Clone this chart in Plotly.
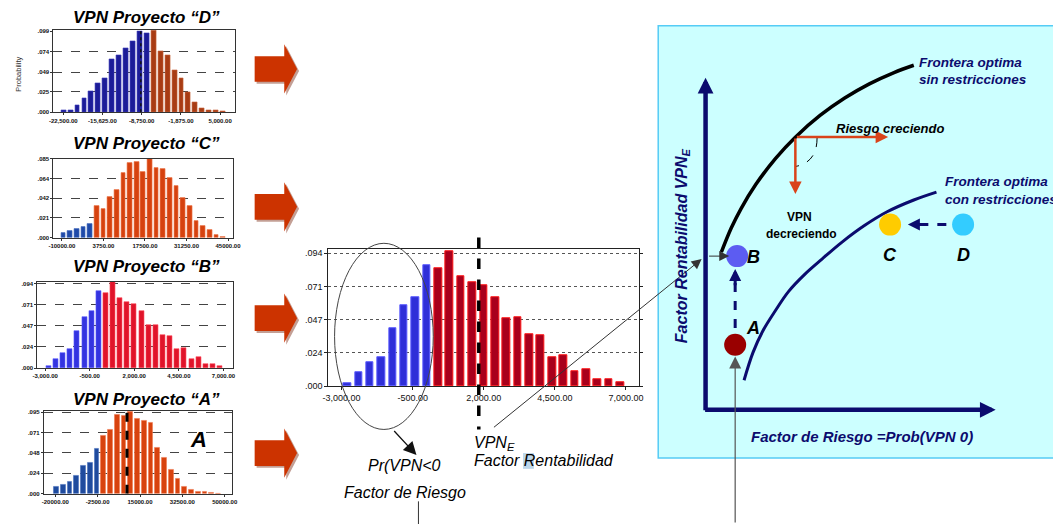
import plotly.graph_objects as go

W, H = 1053, 529
FONT = "Liberation Sans"

# ---------------- data: four small histograms ----------------
D_x_blue = [-22450, -21235, -20020, -18805, -17590, -16375, -15160, -13945, -12730, -11515, -10300, -9085, -7870]
D_y_blue = [0.002, 0.003, 0.008, 0.017, 0.026, 0.036, 0.042, 0.065, 0.070, 0.078, 0.086, 0.099, 0.096]
D_x_orange = [-6655, -5440, -4225, -3010, -1795, -580, 635, 1850, 3065, 4280, 5495]
D_y_orange = [0.0995, 0.074, 0.070, 0.051, 0.042, 0.025, 0.012, 0.005, 0.003, 0.003, 0.001]
D_xticks = [-22500, -15625, -8750, -1875, 5000]
D_xlabels = ["-22,500.00", "-15,625.00", "-8,750.00", "-1,875.00", "5,000.00"]
D_yticks = [0, 0.025, 0.049, 0.074, 0.099]
D_ylabels = [".000", ".025", ".049", ".074", ".099"]

C_x_blue = [-9500, -7300, -5100, -2900, -700]
C_y_blue = [0.0053, 0.0078, 0.009, 0.012, 0.015]
C_x_orange = [1500, 3700, 5900, 8100, 10300, 12500, 14700, 16900, 19100, 21300,
              23500, 25700, 27900, 30100, 32300, 34500, 36700, 38900, 41100, 43300]
C_y_orange = [0.034, 0.031, 0.0435, 0.052, 0.070, 0.081, 0.082, 0.071, 0.085, 0.075,
              0.074, 0.065, 0.056, 0.043, 0.034, 0.018, 0.013, 0.008, 0.0025, 0.0007]
C_xticks = [-10000, 3750, 17500, 31250, 45000]
C_xlabels = ["-10000.00", "3750.00", "17500.00", "31250.00", "45000.00"]
C_yticks = [0, 0.02125, 0.0425, 0.06375, 0.085]
C_ylabels = [".000", ".021", ".042", ".064", ".085"]

B_x_blue = [-2800, -2400, -2000, -1600, -1200, -800, -400, 0]
B_y_blue = [0.0021, 0.010, 0.0172, 0.0207, 0.041, 0.0569, 0.0631, 0.0856]
B_x_red = [400, 800, 1200, 1600, 2000, 2400, 2800, 3200, 3600, 4000, 4400, 4800, 5200, 5600, 6000, 6400, 6800]
B_y_red = [0.0833, 0.0956, 0.0778, 0.0736, 0.0717, 0.0631, 0.048, 0.0485, 0.0364, 0.036,
           0.0207, 0.0218, 0.0102, 0.012, 0.0051, 0.0051, 0.0026]
B_xticks = [-3000, -500, 2000, 4500, 7000]
B_xlabels = ["-3,000.00", "-500.00", "2,000.00", "4,500.00", "7,000.00"]
B_yticks = [0, 0.0235, 0.047, 0.0705, 0.094]
B_ylabels = [".000", ".024", ".047", ".071", ".094"]

A_x_blue = [-19600, -16810, -14020, -11230, -8440, -5650, -2860]
A_y_blue = [0.0076, 0.0103, 0.0141, 0.0209, 0.0323, 0.0361, 0.0528]
A_x_orange = [-70, 2720, 5510, 8300, 11090, 13880, 16670, 19460, 22250, 25040,
              27830, 30620, 33410, 36200, 38990, 41780, 44570, 47360]
A_y_orange = [0.0673, 0.0749, 0.0923, 0.0912, 0.095, 0.0874, 0.0844, 0.0825, 0.0532, 0.0418,
              0.0277, 0.0171, 0.0084, 0.0049, 0.0027, 0.0019, 0.0008, 0.0004]
A_xticks = [-20000, -2500, 15000, 32500, 50000]
A_xlabels = ["-20000.00", "-2500.00", "15000.00", "32500.00", "50000.00"]
A_yticks = [0, 0.02375, 0.0475, 0.07125, 0.095]
A_ylabels = [".000", ".024", ".048", ".071", ".095"]

D_mean = -8900
A_mean = 9626
B_mean = 1825

# ---------------- data: risk / return diagram ----------------
frontier_free_x = [725, 735, 745, 760, 780, 800, 825, 850, 875, 900, 920]
frontier_free_y = [253, 228.5, 208.7, 184.1, 157.7, 136.2, 114.2, 96.5, 82.1, 70.6, 63.2]
frontier_con_x = [748, 757, 767, 780, 793, 810, 827, 847, 870, 893, 920, 943]
frontier_con_y = [383, 355, 333, 312, 293, 275, 260, 243, 226, 212, 200, 192]
proj_names = ["A", "B", "C", "D"]
proj_x = [739, 741, 896, 970]
proj_y = [347, 257, 225, 225]
proj_colors = ["#990000", "#5c5cf2", "#ffcc00", "#33ccff"]
proj_label_x = [757, 758, 896, 970]
proj_label_y = [330, 258, 256, 256]


def pdx(x):
    return x / W


def pdy(y):
    return 1 - y / H


fig = go.Figure()
layout_axes = {}

small = [
    dict(n=1, xb=D_x_blue, yb=D_y_blue, xo=D_x_orange, yo=D_y_orange, cb="#1c1c98", co="#a83c14",
         lb="#3a3ab8", lo="#c8643c", w=860, px=(48, 232), py=(27.7, 111), xr=[-24230, 7595], yr=[0, 0.1],
         xt=D_xticks, xl=D_xlabels, yt=D_yticks, yl=D_ylabels),
    dict(n=2, xb=C_x_blue, yb=C_y_blue, xo=C_x_orange, yo=C_y_orange, cb="#1f4aa8", co="#d6420f",
         lb="#4a70c0", lo="#f07a50", w=1560, px=(48, 230), py=(158.3, 238.3), xr=[-12843, 46634], yr=[0, 0.085],
         xt=C_xticks, xl=C_xlabels, yt=C_yticks, yl=C_ylabels),
    dict(n=3, xb=B_x_blue, yb=B_y_blue, xo=B_x_red, yo=B_y_red, cb="#3434e0", co="#e0142a",
         lb="#5a5aff", lo="#ff4a5a", w=280, px=(31.7, 230), py=(283.3, 370.7), xr=[-3442, 7537], yr=[0, 0.0958],
         xt=B_xticks, xl=B_xlabels, yt=B_yticks, yl=B_ylabels),
    dict(n=4, xb=A_x_blue, yb=A_y_blue, xo=A_x_orange, yo=A_y_orange, cb="#1f4b9e", co="#d8430f",
         lb="#4a70c0", lo="#f07a50", w=2000, px=(38.3, 229.3), py=(414, 498.3), xr=[-24757, 53114], yr=[0, 0.0965],
         xt=A_xticks, xl=A_xlabels, yt=A_yticks, yl=A_ylabels),
]

tick_small = dict(size=6, family=FONT, color="#111", weight="bold")

for c in small:
    s = "" if c["n"] == 1 else str(c["n"])
    for xs, ys, col, lc in ((c["xb"], c["yb"], c["cb"], c["lb"]), (c["xo"], c["yo"], c["co"], c["lo"])):
        fig.add_trace(go.Bar(x=xs, y=ys, width=c["w"], xaxis="x" + s, yaxis="y" + s,
                             marker=dict(color=col, line=dict(color=lc, width=0.6)),
                             showlegend=False, hoverinfo="skip"))
    layout_axes["xaxis" + s] = dict(domain=[pdx(c["px"][0]), pdx(c["px"][1])], range=c["xr"], anchor="y" + s,
                                    tickvals=c["xt"], ticktext=c["xl"], tickfont=tick_small, showgrid=False,
                                    zeroline=False, showline=True, linecolor="#333", linewidth=1, mirror=True,
                                    ticks="outside", ticklen=2, tickcolor="#333", fixedrange=True)
    layout_axes["yaxis" + s] = dict(domain=[pdy(c["py"][1]), pdy(c["py"][0])], range=c["yr"], anchor="x" + s,
                                    tickvals=c["yt"], ticktext=c["yl"], tickfont=tick_small, showgrid=True,
                                    gridcolor="#444", griddash="dash", gridwidth=0.8, zeroline=False,
                                    showline=True, linecolor="#333", linewidth=1, mirror=True,
                                    ticks="outside", ticklen=2, tickcolor="#333", fixedrange=True)

# ---------------- central histogram (project B enlarged) ----------------
fig.add_trace(go.Bar(x=B_x_blue, y=B_y_blue, width=260, xaxis="x5", yaxis="y5",
                     marker=dict(color="#2f2fd8", line=dict(color="#5a5aff", width=1)),
                     showlegend=False, hoverinfo="skip"))
fig.add_trace(go.Bar(x=B_x_red, y=B_y_red, width=270, xaxis="x5", yaxis="y5",
                     marker=dict(color="#a8001c", line=dict(color="#ff1a1a", width=1)),
                     showlegend=False, hoverinfo="skip"))
tick_mid = dict(size=9, family=FONT, color="#111")
layout_axes["xaxis5"] = dict(domain=[pdx(326.7), pdx(641.7)], range=[-3463, 7463], anchor="y5",
                             tickvals=B_xticks, ticktext=B_xlabels, tickfont=tick_mid, showgrid=False,
                             zeroline=False, showline=True, linecolor="#222", linewidth=1, mirror=True,
                             ticks="outside", ticklen=3, tickcolor="#222", fixedrange=True)
layout_axes["yaxis5"] = dict(domain=[pdy(389), pdy(250)], range=[0, 0.0968], anchor="x5",
                             tickvals=B_yticks, ticktext=B_ylabels, tickfont=tick_mid, showgrid=True,
                             gridcolor="#555", griddash="dot", gridwidth=1, zeroline=False,
                             showline=True, linecolor="#222", linewidth=1, mirror="ticks",
                             ticks="outside", ticklen=3, tickcolor="#222", fixedrange=True)

# ---------------- overlay pixel axis for the diagram ----------------
layout_axes["xaxis6"] = dict(domain=[0, 1], range=[0, W], visible=False, anchor="y6", fixedrange=True)
layout_axes["yaxis6"] = dict(domain=[0, 1], range=[H, 0], visible=False, anchor="x6", fixedrange=True)

NAVY = "#0b0b6e"
fig.add_trace(go.Scatter(x=frontier_free_x, y=frontier_free_y, mode="lines", xaxis="x6", yaxis="y6",
                         line=dict(color="#000", width=3.5, shape="spline", smoothing=1.0),
                         showlegend=False, hoverinfo="skip"))
fig.add_trace(go.Scatter(x=frontier_con_x, y=frontier_con_y, mode="lines", xaxis="x6", yaxis="y6",
                         line=dict(color=NAVY, width=3, shape="spline", smoothing=1.0),
                         showlegend=False, hoverinfo="skip"))
fig.add_trace(go.Scatter(x=proj_x, y=proj_y, mode="markers", xaxis="x6", yaxis="y6",
                         marker=dict(size=22, color=proj_colors, line=dict(width=0)),
                         showlegend=False, hoverinfo="skip"))

shapes = []
annotations = []

# cyan panel
shapes.append(dict(type="rect", xref="paper", yref="paper", x0=pdx(661), x1=1.02, y0=pdy(462), y1=pdy(23),
                   fillcolor="#ccffff", line=dict(color="#55ccf5", width=1.5), layer="below"))

# block arrows (left)
for yc in (67, 207, 320, 457):
    for dx, dy, col, op in ((2, 2, "#7a2a14", 0.45), (0, 0, "#cc3300", 1)):
        p = (f"M{252+dx},{yc-13+dy} L{282+dx},{yc-13+dy} L{282+dx},{yc-25+dy} L{295+dx},{yc+dy} "
             f"L{282+dx},{yc+25+dy} L{282+dx},{yc+13+dy} L{252+dx},{yc+13+dy} Z")
        shapes.append(dict(type="path", xref="x6", yref="y6", path=p, fillcolor=col, opacity=op,
                           line=dict(width=0)))

# mean / marker lines
shapes.append(dict(type="line", xref="x", yref="y", x0=D_mean, x1=D_mean, y0=0, y1=0.099,
                   line=dict(color="#111", width=1.5, dash="dot")))
shapes.append(dict(type="line", xref="x4", yref="y4", x0=A_mean, x1=A_mean, y0=0, y1=0.0965,
                   line=dict(color="#000", width=3, dash="dash")))
shapes.append(dict(type="line", xref="x5", yref="y6", x0=B_mean, x1=B_mean, y0=238, y1=433,
                   line=dict(color="#000", width=3.5, dash="dash")))

# ellipse around negative tail
shapes.append(dict(type="circle", xref="x6", yref="y6", x0=333, x1=433, y0=244, y1=433,
                   line=dict(color="#444", width=1)))
# highlight behind "R"
shapes.append(dict(type="rect", xref="x6", yref="y6", x0=524, x1=535, y0=457, y1=473,
                   fillcolor="#bcd6ea", line=dict(width=0), layer="below"))
# thin vertical line below "Factor de Riesgo"
shapes.append(dict(type="line", xref="x6", yref="y6", x0=418, x1=418, y0=506, y1=529,
                   line=dict(color="#333", width=1)))
# dashed navy arrow shafts
shapes.append(dict(type="line", xref="x6", yref="y6", x0=953, x1=929, y0=225, y1=225,
                   line=dict(color=NAVY, width=3, dash="dash")))
shapes.append(dict(type="line", xref="x6", yref="y6", x0=739, x1=739, y0=330, y1=284,
                   line=dict(color=NAVY, width=3, dash="dash")))
# right-angle dashed arc
shapes.append(dict(type="path", xref="x6", yref="y6", path="M 822 137 Q 822 162 800 166",
                   line=dict(color="#000", width=1, dash="dash")))


def arrow(x0, y0, x1, y1, color, width, head=2, size=1.0):
    annotations.append(dict(x=x1, y=y1, ax=x0, ay=y0, xref="x6", yref="y6", axref="x6", ayref="y6",
                            showarrow=True, arrowhead=head, arrowsize=size, arrowwidth=width,
                            arrowcolor=color, text="", standoff=0, startstandoff=0))


# diagram axes
arrow(709, 415, 709, 76, NAVY, 4.5, 2, 0.7)
arrow(707, 413, 1003, 413, NAVY, 4.5, 2, 0.7)
# red arrows
arrow(800, 136, 894, 136, "#d9431a", 2.5, 2, 1.0)
arrow(800, 136, 800, 194, "#d9431a", 2.5, 2, 1.0)
# dashed arrow heads
arrow(931, 225, 914, 225, NAVY, 3, 2, 0.8)
arrow(739, 288, 739, 270, NAVY, 3, 2, 0.8)
# thin pointer arrows
arrow(493, 432, 705, 260, "#333", 1, 2, 2)
arrow(711, 257, 733, 257, "#333", 1, 2, 2)
arrow(739, 529, 739, 359, "#555", 1.2, 2, 2)
arrow(392, 433, 416, 459, "#111", 1.3, 2, 2)


def text(x, y, s, size, color="#000", bold=False, italic=False, xanchor="center", angle=0):
    annotations.append(dict(x=x, y=y, xref="x6", yref="y6", text=s, showarrow=False, xanchor=xanchor,
                            yanchor="middle", textangle=angle,
                            font=dict(family=FONT, size=size, color=color,
                                      weight="bold" if bold else "normal",
                                      style="italic" if italic else "normal")))


# titles of small charts
text(142, 15, "VPN Proyecto “D”", 17, bold=True, italic=True)
text(142, 143, "VPN Proyecto “C”", 17, bold=True, italic=True)
text(142, 268, "VPN Proyecto “B”", 17, bold=True, italic=True)
text(142, 403, "VPN Proyecto “A”", 17, bold=True, italic=True)
text(13, 72, "Probability", 7.5, color="#333", angle=-90)
text(195, 443, "A", 22, bold=True, italic=True)

# central annotations
text(404, 470, "Pr(VPN&lt;0", 16, italic=True)
text(404, 497, "Factor de Riesgo", 16, italic=True)
text(472, 447, "VPN<sub>E</sub>", 16, italic=True, xanchor="left")
text(472, 465, "Factor Rentabilidad", 16, italic=True, xanchor="left")

# diagram text
text(923, 60, "Frontera optima", 13.5, color=NAVY, bold=True, italic=True, xanchor="left")
text(923, 78, "sin restricciones", 13.5, color=NAVY, bold=True, italic=True, xanchor="left")
text(950, 181, "Frontera optima", 13.5, color=NAVY, bold=True, italic=True, xanchor="left")
text(950, 200, "con restricciones", 13.5, color=NAVY, bold=True, italic=True, xanchor="left")
text(896, 127, "Riesgo creciendo", 13, bold=True, italic=True)
text(804, 217, "VPN", 12, bold=True)
text(806, 235, "decreciendo", 12, bold=True)
text(685, 246, "Factor Rentabilidad VPN<sub>E</sub>", 16, color=NAVY, bold=True, italic=True, angle=-90)
text(868, 440, "Factor de Riesgo =Prob(VPN 0)", 15, color=NAVY, bold=True, italic=True)
for nm, lx, ly in zip(proj_names, proj_label_x, proj_label_y):
    text(lx, ly, nm, 18, bold=True, italic=True)

fig.update_layout(
    width=W, height=H, autosize=False,
    margin=dict(l=0, r=0, t=0, b=0),
    paper_bgcolor="white", plot_bgcolor="rgba(0,0,0,0)",
    barmode="overlay", bargap=0,
    shapes=shapes, annotations=annotations,
    font=dict(family=FONT),
    **layout_axes,
)

fig.write_html("out.html", config={"displayModeBar": False},
               post_script="document.body.style.margin='0';")
